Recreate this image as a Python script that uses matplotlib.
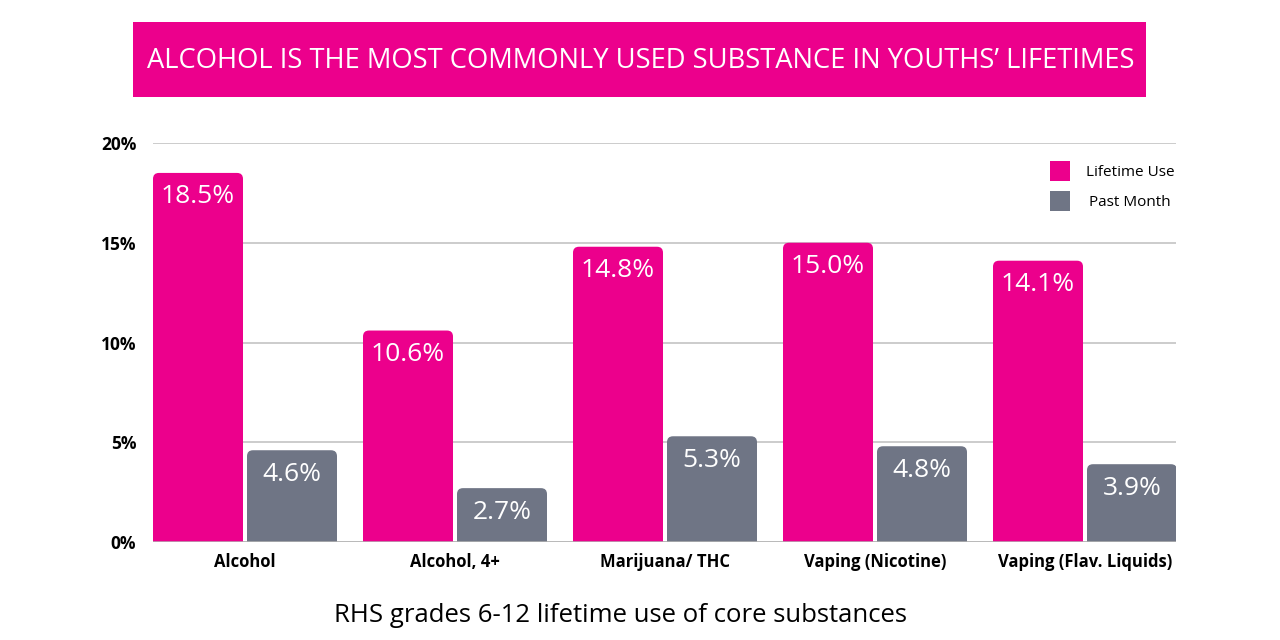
import matplotlib
matplotlib.use("Agg")
import matplotlib.pyplot as plt
from matplotlib.patches import FancyBboxPatch, Rectangle
import numpy as np

# donnees
categories = ["Alcohol", "Alcohol, 4+", "Marijuana/ THC", "Vaping (Nicotine)", "Vaping (Flav. Liquids)"]
lifetime_use = [18.5, 10.6, 14.8, 15.0, 14.1]
past_month = [4.6, 2.7, 5.3, 4.8, 3.9]
yticks = [0, 5, 10, 15, 20]
ytick_labels = ["0%", "5%", "10%", "15%", "20%"]

PINK = "#EC008C"
GREY = "#6F7585"
FONT = "Open Sans"

plt.rcParams['font.family'] = [FONT, 'DejaVu Sans']

fig = plt.figure(figsize=(12.8, 6.4), dpi=100)
ax = fig.add_axes([153 / 1280, 1 - 542 / 640, (1176 - 153) / 1280, (542 - 143) / 640])

x = np.arange(len(categories))
w = 90 / 210
off = 47 / 210

b1 = ax.bar(x - off, lifetime_use, w, color=PINK)
b2 = ax.bar(x + off, past_month, w, color=GREY)

# barres a coins arrondis (haut seulement, le bas est coupe par l'axe)
rx = 6 / 210
ry = 6 / 20
for bars, col in ((b1, PINK), (b2, GREY)):
    for b in bars:
        b.set_visible(False)
        p = FancyBboxPatch((b.get_x(), -1), b.get_width(), b.get_height() + 1,
                           boxstyle=f"round,pad=0,rounding_size={rx}",
                           mutation_aspect=ry / rx, fc=col, ec="none", zorder=3)
        ax.add_patch(p)
        ax.text(b.get_x() + b.get_width() / 2, b.get_height() - 1.2,
                f"{b.get_height():.1f}%", ha="center", va="center",
                color="white", fontsize=19, zorder=4)

ax.set_xlim(-92 / 210, len(categories) - 1 + 91 / 210)
ax.set_ylim(0, 20)
ax.set_yticks(yticks)
ax.set_yticklabels(ytick_labels, fontsize=12.5, fontweight="bold")
ax.set_xticks(x)
ax.set_xticklabels(categories, fontsize=12, fontweight="bold")
ax.tick_params(length=0)
ax.tick_params(axis="y", pad=12)
ax.tick_params(axis="x", pad=8)
for s in ax.spines.values():
    s.set_visible(False)
ax.set_axisbelow(True)
ax.yaxis.grid(True, color="#C8C8C8", lw=1.3)
ax.axhline(0, color="#B4B4B4", lw=1.8, zorder=5)

# bandeau titre
fig.patches.append(Rectangle((133 / 1280, 1 - 97 / 640), (1146 - 133) / 1280, 75 / 640,
                             transform=fig.transFigure, fc=PINK, ec="none"))
fig.text(641 / 1280, 1 - 61 / 640, "ALCOHOL IS THE MOST COMMONLY USED SUBSTANCE IN YOUTHS\u2019 LIFETIMES",
         ha="center", va="center", color="white", fontsize=19.7)

# legende
for i, (lab, col) in enumerate((("Lifetime Use", PINK), ("Past Month", GREY))):
    yc = 171 + 30 * i
    fig.patches.append(Rectangle((1050 / 1280, 1 - (yc + 10) / 640), 20 / 1280, 20 / 640,
                                 transform=fig.transFigure, fc=col, ec="none"))
    fig.text(1130 / 1280, 1 - (yc + 1) / 640, lab, ha="center", va="center", fontsize=11)

fig.text(621 / 1280, 1 - 616 / 640, "RHS grades 6-12 lifetime use of core substances",
         ha="center", va="center", fontsize=18.5)

fig.savefig("out.png", dpi=100, facecolor="white")
